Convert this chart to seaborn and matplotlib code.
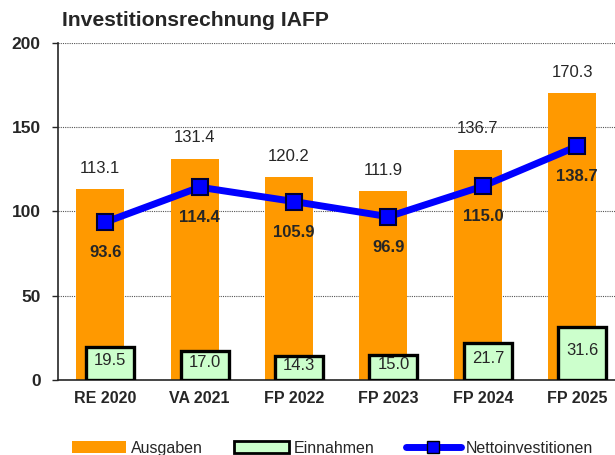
import numpy as np
import seaborn as sns
import matplotlib.pyplot as plt
from matplotlib.patches import Patch
from matplotlib.lines import Line2D

categories = ["RE 2020", "VA 2021", "FP 2022", "FP 2023", "FP 2024", "FP 2025"]
ausgaben = [113.1, 131.4, 120.2, 111.9, 136.7, 170.3]
einnahmen = [19.5, 17.0, 14.3, 15.0, 21.7, 31.6]
netto = [93.6, 114.4, 105.9, 96.9, 115.0, 138.7]

sns.set_style("ticks")
plt.rcParams["font.family"] = ["Liberation Sans", "DejaVu Sans"]

orange = "#FF9900"
green = "#CCFFCC"
blue = "#0000FF"

pos = np.arange(len(categories))
shift = 0.053

fig = plt.figure(figsize=(6.15, 4.55), dpi=100)
ax = fig.add_axes([0.0943, 0.165, 0.9057, 0.7405])

# Ausgaben bars (slightly left), Einnahmen bars (slightly right, in front)
sns.barplot(x=pos - shift, y=ausgaben, native_scale=True, width=0.51,
            color=orange, saturation=1, edgecolor="none", ax=ax, zorder=2)
sns.barplot(x=pos + shift, y=einnahmen, native_scale=True, width=0.51,
            color=green, saturation=1, edgecolor="black", linewidth=2.4,
            ax=ax, zorder=3)
sns.lineplot(x=pos, y=netto, color=blue, linewidth=5, marker="s",
             markersize=11, markerfacecolor=blue, markeredgecolor="#000033",
             markeredgewidth=1.5, ax=ax, zorder=4)

# value labels
for i in range(len(categories)):
    ax.annotate(f"{ausgaben[i]:.1f}", (pos[i] - shift, ausgaben[i]),
                xytext=(0, 15), textcoords="offset points",
                ha="center", va="center", fontsize=12, zorder=5)
    ax.annotate(f"{einnahmen[i]:.1f}", (pos[i] + shift, einnahmen[i] / 2),
                xytext=(0, 2), textcoords="offset points",
                ha="center", va="center", fontsize=12, zorder=5)
    ax.annotate(f"{netto[i]:.1f}", (pos[i], netto[i]),
                xytext=(0, -22), textcoords="offset points",
                ha="center", va="center", fontsize=12, fontweight="bold",
                zorder=5)

ax.set_xlim(-0.5, 5.4)
ax.set_ylim(0, 200)
ax.set_yticks([0, 50, 100, 150, 200])
ax.set_xticks(pos)
ax.set_xticklabels(categories)
ax.set_xlabel("")
ax.set_ylabel("")
ax.yaxis.grid(True, linestyle=(0, (1, 1)), color="#555555", linewidth=0.8)
ax.set_axisbelow(True)
ax.tick_params(axis="y", length=4.5, width=1, pad=8, labelsize=12.5)
ax.tick_params(axis="x", length=0, pad=8, labelsize=11.5)
for lab in ax.get_xticklabels() + ax.get_yticklabels():
    lab.set_fontweight("bold")
ax.spines["right"].set_visible(False)
ax.spines["top"].set_visible(False)
ax.spines["left"].set_linewidth(1.2)
ax.spines["bottom"].set_linewidth(1.2)

fig.text(0.1, 0.955, "Investitionsrechnung IAFP", fontsize=15.2,
         fontweight="bold", ha="left", va="center")

handles = [
    Patch(facecolor=orange, edgecolor="none", label="Ausgaben"),
    Patch(facecolor=green, edgecolor="black", linewidth=2, label="Einnahmen"),
    Line2D([0], [0], color=blue, linewidth=5, marker="s", markersize=8,
           markerfacecolor=blue, markeredgecolor="black",
           label="Nettoinvestitionen"),
]
fig.legend(handles=handles, loc="center", bbox_to_anchor=(0.54, 0.015),
           ncol=3, frameon=False, fontsize=11.5, handlelength=3.4,
           handleheight=0.7, columnspacing=2.0, handletextpad=0.3)

fig.savefig("out.png", dpi=100)
